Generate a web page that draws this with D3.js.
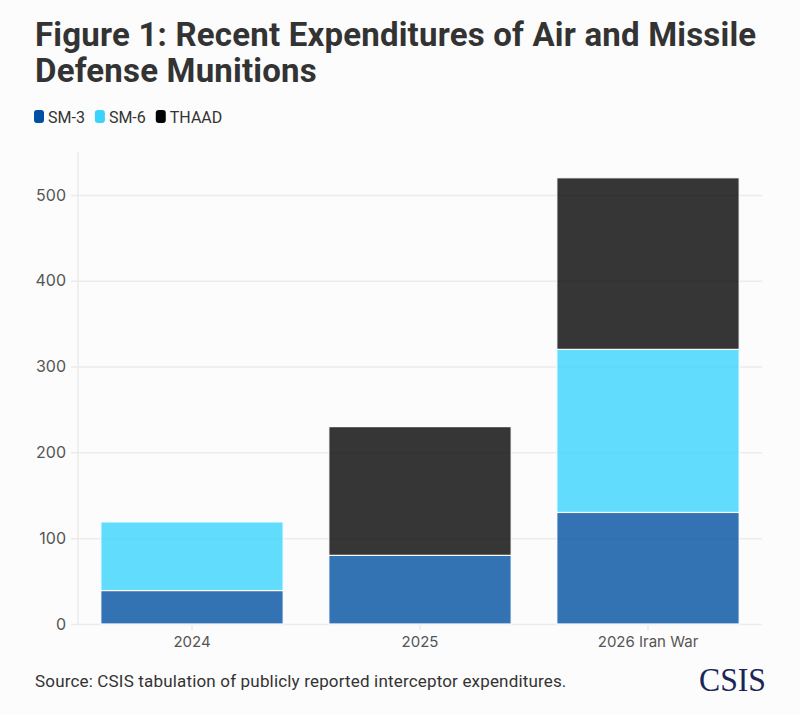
<!DOCTYPE html>
<html>
<head>
<meta charset="utf-8">
<script src="https://cdn.jsdelivr.net/npm/d3@7"></script>
<style>
  body { margin: 0; background: #fcfcfc; }
  svg { display: block; }
</style>
</head>
<body>
<div id="chart"></div>
<script>
const categories = ['2024', '2025', '2026 Iran War'];
const seriesNames = ['SM-3', 'SM-6', 'THAAD'];
const sm3 = [39, 80, 130];
const sm6 = [80, 0, 190];
const thaad = [0, 150, 200];
const yTicks = [0, 100, 200, 300, 400, 500];
const colors = ['#0050a1', '#3bd3fb', '#040404'];

const width = 800;
const height = 714;
const margin = { top: 152, right: 38, bottom: 90, left: 78 };

const svg = d3.select('#chart').append('svg')
  .attr('width', width)
  .attr('height', height);

svg.append('rect').attr('width', width).attr('height', height).attr('fill', '#fcfcfc');

// title
const title = svg.append('text')
  .attr('x', 35)
  .attr('font-family', 'Roboto, sans-serif')
  .attr('font-weight', 700)
  .attr('font-size', 33)
  .attr('letter-spacing', 0.2)
  .attr('fill', '#333');
title.append('tspan').attr('x', 35).attr('y', 46).text('Figure 1: Recent Expenditures of Air and Missile');
title.append('tspan').attr('x', 35).attr('y', 82).text('Defense Munitions');

// legend
const legend = svg.append('g').attr('transform', 'translate(34,0)');
let lx = 0;
seriesNames.forEach((name, i) => {
  const g = legend.append('g').attr('transform', `translate(${lx},0)`);
  g.append('rect')
    .attr('x', 0).attr('y', 110)
    .attr('width', 10).attr('height', 13)
    .attr('rx', 3)
    .attr('fill', colors[i]);
  const t = g.append('text')
    .attr('x', 14).attr('y', 123)
    .attr('font-family', 'Roboto, sans-serif')
    .attr('font-size', 16)
    .attr('fill', '#333')
    .text(name);
  lx += 14 + t.node().getComputedTextLength() + 10;
});

const x = d3.scaleBand()
  .domain(categories)
  .range([margin.left, width - margin.right])
  .paddingInner(0.2)
  .paddingOuter(0.1);

const y = d3.scaleLinear()
  .domain([0, 550])
  .range([height - margin.bottom, margin.top]);

// gridlines
svg.append('g')
  .attr('transform', `translate(${margin.left},0)`)
  .call(d3.axisLeft(y).tickValues(yTicks).tickSize(-(width - margin.right - margin.left)).tickSizeOuter(0).tickPadding(12))
  .call((g) => g.select('.domain').remove())
  .call((g) => g.selectAll('.tick line').attr('stroke', '#ebebeb').attr('stroke-width', 1.5).attr('x1', -7))
  .call((g) => g.selectAll('.tick text')
    .attr('font-family', 'Inter, sans-serif')
    .attr('font-size', 16)
    .attr('fill', '#555'));

svg.append('line')
  .attr('x1', margin.left).attr('x2', margin.left)
  .attr('y1', margin.top).attr('y2', y(0))
  .attr('stroke', '#ebebeb').attr('stroke-width', 1.5);

// x axis
svg.append('g')
  .attr('transform', `translate(0,${y(0)})`)
  .call(d3.axisBottom(x).tickSize(6).tickSizeOuter(0).tickPadding(6))
  .call((g) => g.select('.domain').remove())
  .call((g) => g.selectAll('.tick line').attr('stroke', '#ebebeb').attr('stroke-width', 1.5))
  .call((g) => g.selectAll('.tick text')
    .attr('font-family', 'Inter, sans-serif')
    .attr('font-size', 15)
    .attr('fill', '#555'));

// stacked bars
const table = categories.map((c, i) => ({
  cat: c, 'SM-3': sm3[i], 'SM-6': sm6[i], THAAD: thaad[i],
}));
const stacked = d3.stack().keys(seriesNames)(table);

svg.append('g')
  .selectAll('g')
  .data(stacked)
  .join('g')
  .attr('fill', (d, i) => colors[i])
  .attr('fill-opacity', 0.8)
  .selectAll('rect')
  .data((d) => d.filter((v) => v[1] - v[0] > 0))
  .join('rect')
  .attr('x', (d) => x(d.data.cat))
  .attr('width', x.bandwidth())
  .attr('y', (d) => y(d[1]))
  .attr('height', (d) => y(d[0]) - y(d[1]))
  .attr('stroke', '#fff')
  .attr('stroke-width', 1.2);

// source
svg.append('text')
  .attr('x', 35).attr('y', 687)
  .attr('font-family', 'Roboto, sans-serif')
  .attr('font-size', 17)
  .attr('letter-spacing', 0.17)
  .attr('fill', '#333')
  .text('Source: CSIS tabulation of publicly reported interceptor expenditures.');

svg.append('text')
  .attr('x', 699).attr('y', 691)
  .attr('font-family', '"Liberation Serif", serif')
  .attr('font-size', 34)
  .attr('textLength', 67)
  .attr('lengthAdjust', 'spacingAndGlyphs')
  .attr('fill', '#1b2556')
  .text('CSIS');
</script>
</body>
</html>
